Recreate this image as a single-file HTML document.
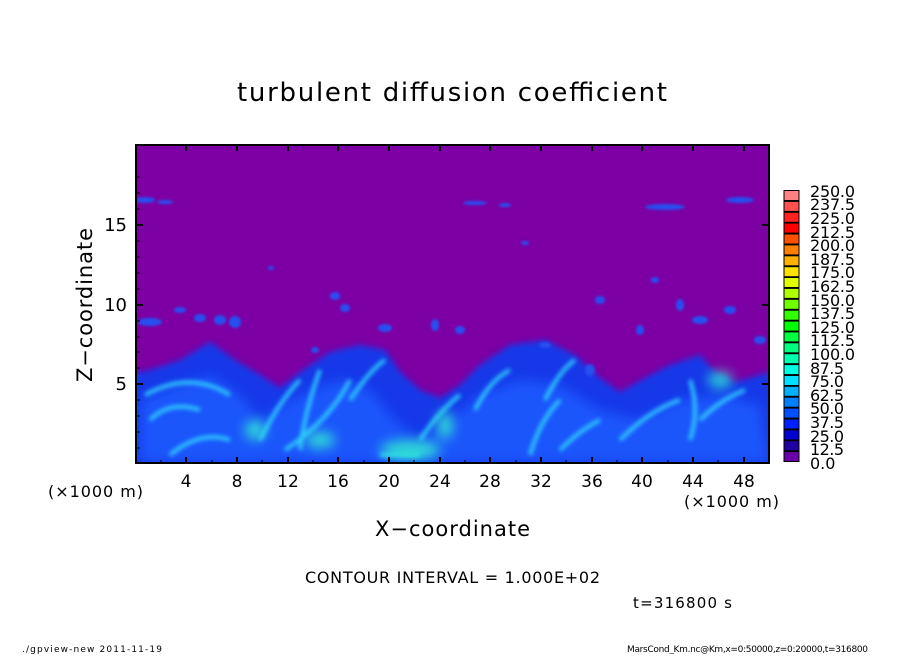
<!DOCTYPE html>
<html><head><meta charset="utf-8"><style>
body{margin:0;background:#fff;}
svg text{font-family:"DejaVu Sans","Liberation Sans",sans-serif;fill:#000;}
</style></head><body>
<svg width="904" height="654" viewBox="0 0 904 654" xmlns="http://www.w3.org/2000/svg">
<defs>
<filter id="b3" x="-20%" y="-20%" width="140%" height="140%"><feGaussianBlur stdDeviation="3"/></filter>
<filter id="b2" x="-20%" y="-20%" width="140%" height="140%"><feGaussianBlur stdDeviation="2"/></filter>
<filter id="b6" x="-20%" y="-20%" width="140%" height="140%"><feGaussianBlur stdDeviation="6"/></filter>
<filter id="b1" x="-50%" y="-50%" width="200%" height="200%"><feGaussianBlur stdDeviation="1.2"/></filter>
<clipPath id="cp"><rect x="136" y="145" width="633" height="318"/></clipPath>
</defs>
<text x="237" y="101" font-size="26" textLength="430" lengthAdjust="spacing">turbulent diffusion coefficient</text>
<rect x="136" y="145" width="633" height="318" fill="#7c00a4"/>
<g clip-path="url(#cp)">
<path filter="url(#b3)" fill="#1838e8" d="M120 470 L120 375 L150 370 L180 360 L210 342 L235 360 L260 375 L280 388 L300 372 L330 352 L360 345 L385 350 L400 372 L420 390 L440 398 L460 385 L480 365 L510 345 L545 340 L575 355 L600 378 L620 392 L645 378 L670 365 L700 355 L715 372 L735 382 L770 372 L780 470 Z"/>
<path filter="url(#b6)" fill="#1f5cff" opacity="0.85" d="M140 463 L140 400 L180 385 L210 375 L240 395 L260 420 L300 395 L340 380 L370 390 L395 420 L420 440 L450 420 L480 395 L520 380 L560 385 L600 410 L640 420 L680 400 L720 395 L760 405 L769 463 Z"/>
<g filter="url(#b2)" fill="none" stroke="#30d8ff" stroke-width="4" opacity="0.9">
<path d="M145 395 Q190 370 230 395"/>
<path d="M150 420 Q170 400 200 410"/>
<path d="M260 440 Q280 400 300 380"/>
<path d="M285 450 Q330 420 350 380"/>
<path d="M300 450 Q305 410 320 370"/>
<path d="M350 400 Q370 370 385 360"/>
<path d="M420 440 Q440 410 460 395"/>
<path d="M475 410 Q490 380 510 370"/>
<path d="M530 455 Q540 420 560 400"/>
<path d="M545 400 Q560 370 575 360"/>
<path d="M560 450 Q580 430 600 420"/>
<path d="M620 440 Q650 410 680 400"/>
<path d="M700 420 Q720 400 745 390"/>
<path d="M170 455 Q200 430 230 440"/>
<path d="M380 455 L420 455"/>
<path d="M690 440 Q700 410 690 380"/>
</g>
<g filter="url(#b6)" fill="#30f0d0" opacity="0.85">
<ellipse cx="410" cy="450" rx="30" ry="10"/>
<ellipse cx="320" cy="440" rx="15" ry="8"/>
<ellipse cx="445" cy="425" rx="8" ry="14"/>
<ellipse cx="720" cy="380" rx="12" ry="8"/>
<ellipse cx="255" cy="430" rx="10" ry="10"/>
</g>
<g filter="url(#b1)" fill="#2850f0">
<ellipse cx="145" cy="200" rx="10" ry="3"/><ellipse cx="165" cy="202" rx="8" ry="2"/>
<ellipse cx="475" cy="203" rx="12" ry="2"/><ellipse cx="505" cy="205" rx="6" ry="2"/>
<ellipse cx="665" cy="207" rx="20" ry="3"/><ellipse cx="740" cy="200" rx="14" ry="3"/>
<ellipse cx="200" cy="318" rx="6" ry="4"/><ellipse cx="220" cy="320" rx="6" ry="5"/><ellipse cx="235" cy="322" rx="6" ry="6"/>
<ellipse cx="180" cy="310" rx="6" ry="3"/><ellipse cx="150" cy="322" rx="12" ry="4"/>
<ellipse cx="335" cy="296" rx="5" ry="4"/><ellipse cx="345" cy="308" rx="5" ry="4"/><ellipse cx="385" cy="328" rx="7" ry="4"/>
<ellipse cx="435" cy="325" rx="4" ry="6"/><ellipse cx="460" cy="330" rx="5" ry="4"/><ellipse cx="545" cy="345" rx="6" ry="3"/>
<ellipse cx="600" cy="300" rx="5" ry="4"/><ellipse cx="640" cy="330" rx="4" ry="5"/><ellipse cx="700" cy="320" rx="8" ry="4"/>
<ellipse cx="730" cy="310" rx="6" ry="4"/><ellipse cx="760" cy="340" rx="6" ry="4"/><ellipse cx="680" cy="305" rx="4" ry="6"/>
<ellipse cx="315" cy="350" rx="4" ry="3"/><ellipse cx="590" cy="370" rx="5" ry="6"/><ellipse cx="655" cy="280" rx="4" ry="3"/>
<ellipse cx="525" cy="243" rx="4" ry="2"/><ellipse cx="271" cy="268" rx="3" ry="2"/>
</g>
</g>
<rect x="136" y="145" width="633" height="318" fill="none" stroke="#000" stroke-width="2"/>
<g stroke="#000" stroke-width="2">
<path d="M186 463v-6M237 463v-6M288 463v-6M338 463v-6M389 463v-6M440 463v-6M490 463v-6M541 463v-6M592 463v-6M642 463v-6M693 463v-6M744 463v-6"/>
<path d="M186 145v6M237 145v6M288 145v6M338 145v6M389 145v6M440 145v6M490 145v6M541 145v6M592 145v6M642 145v6M693 145v6M744 145v6"/>
<path d="M136 225h7M136 305h7M136 384h7M769 225h-7M769 305h-7M769 384h-7"/>
</g>
<g stroke="#000" stroke-width="1">
<path d="M161 463v-3M212 463v-3M262 463v-3M313 463v-3M364 463v-3M414 463v-3M465 463v-3M516 463v-3M566 463v-3M617 463v-3M668 463v-3M718 463v-3"/>
<path d="M136 177h4M136 193h4M136 209h4M136 241h4M136 257h4M136 273h4M136 289h4M136 321h4M136 337h4M136 352h4M136 368h4M136 400h4M136 416h4M136 432h4M136 448h4"/>
</g>
<g font-size="17" text-anchor="middle">
<text x="186" y="487">4</text><text x="237" y="487">8</text><text x="288" y="487">12</text><text x="338" y="487">16</text><text x="389" y="487">20</text><text x="440" y="487">24</text><text x="490" y="487">28</text><text x="541" y="487">32</text><text x="592" y="487">36</text><text x="642" y="487">40</text><text x="693" y="487">44</text><text x="744" y="487">48</text>
</g>
<g font-size="18" text-anchor="end">
<text x="127" y="231">15</text><text x="127" y="311">10</text><text x="127" y="390">5</text>
</g>
<text x="48" y="497" font-size="16" textLength="95" lengthAdjust="spacing">(×1000 m)</text>
<text x="684" y="507" font-size="16" textLength="95" lengthAdjust="spacing">(×1000 m)</text>
<text x="375" y="536" font-size="21" textLength="155" lengthAdjust="spacing">X−coordinate</text>
<text transform="translate(92,382) rotate(-90)" font-size="21" textLength="154" lengthAdjust="spacing">Z−coordinate</text>
<rect x="783.5" y="190" width="16" height="272" fill="#000"/>
<g>
<rect x="784.5" y="191" width="14" height="9" fill="#ff8080"/>
<rect x="784.5" y="201.9" width="14" height="9" fill="#ff5050"/>
<rect x="784.5" y="212.8" width="14" height="9" fill="#ff2020"/>
<rect x="784.5" y="223.6" width="14" height="9" fill="#ff0000"/>
<rect x="784.5" y="234.5" width="14" height="9" fill="#ff5000"/>
<rect x="784.5" y="245.4" width="14" height="9" fill="#ff8000"/>
<rect x="784.5" y="256.3" width="14" height="9" fill="#ffb000"/>
<rect x="784.5" y="267.2" width="14" height="9" fill="#ffe000"/>
<rect x="784.5" y="278" width="14" height="9" fill="#e0ff00"/>
<rect x="784.5" y="288.9" width="14" height="9" fill="#b0ff00"/>
<rect x="784.5" y="299.8" width="14" height="9" fill="#70ff00"/>
<rect x="784.5" y="310.7" width="14" height="9" fill="#30ff00"/>
<rect x="784.5" y="321.6" width="14" height="9" fill="#00ff00"/>
<rect x="784.5" y="332.4" width="14" height="9" fill="#00ff40"/>
<rect x="784.5" y="343.3" width="14" height="9" fill="#00ff80"/>
<rect x="784.5" y="354.2" width="14" height="9" fill="#00ffb0"/>
<rect x="784.5" y="365.1" width="14" height="9" fill="#00ffe0"/>
<rect x="784.5" y="376" width="14" height="9" fill="#00e0ff"/>
<rect x="784.5" y="386.8" width="14" height="9" fill="#00b0ff"/>
<rect x="784.5" y="397.7" width="14" height="9" fill="#0080ff"/>
<rect x="784.5" y="408.6" width="14" height="9" fill="#0050ff"/>
<rect x="784.5" y="419.5" width="14" height="9" fill="#0020ff"/>
<rect x="784.5" y="430.4" width="14" height="9" fill="#0000d0"/>
<rect x="784.5" y="441.2" width="14" height="9" fill="#2000a0"/>
<rect x="784.5" y="452.1" width="14" height="9" fill="#6a00a8"/>
</g>
<g font-size="16">
<text x="810" y="197" textLength="45">250.0</text><text x="810" y="210" textLength="45">237.5</text><text x="810" y="224" textLength="45">225.0</text><text x="810" y="238" textLength="45">212.5</text><text x="810" y="251" textLength="45">200.0</text><text x="810" y="265" textLength="45">187.5</text><text x="810" y="278" textLength="45">175.0</text><text x="810" y="292" textLength="45">162.5</text><text x="810" y="306" textLength="45">150.0</text><text x="810" y="319" textLength="45">137.5</text><text x="810" y="333" textLength="45">125.0</text><text x="810" y="346" textLength="45">112.5</text><text x="810" y="360" textLength="45">100.0</text><text x="810" y="374" textLength="34">87.5</text><text x="810" y="387" textLength="34">75.0</text><text x="810" y="401" textLength="34">62.5</text><text x="810" y="414" textLength="34">50.0</text><text x="810" y="428" textLength="34">37.5</text><text x="810" y="442" textLength="34">25.0</text><text x="810" y="455" textLength="34">12.5</text><text x="810" y="469">0.0</text>
</g>
<text x="305" y="583" font-size="16" textLength="295" lengthAdjust="spacing">CONTOUR INTERVAL = 1.000E+02</text>
<text x="633" y="608" font-size="15" textLength="99" lengthAdjust="spacing">t=316800 s</text>
<text x="22" y="652" font-size="9" textLength="140" lengthAdjust="spacing">./gpview-new  2011-11-19</text>
<text x="627" y="652" font-size="9" textLength="241" lengthAdjust="spacing">MarsCond_Km.nc@Km,x=0:50000,z=0:20000,t=316800</text>
</svg>
</body></html>
